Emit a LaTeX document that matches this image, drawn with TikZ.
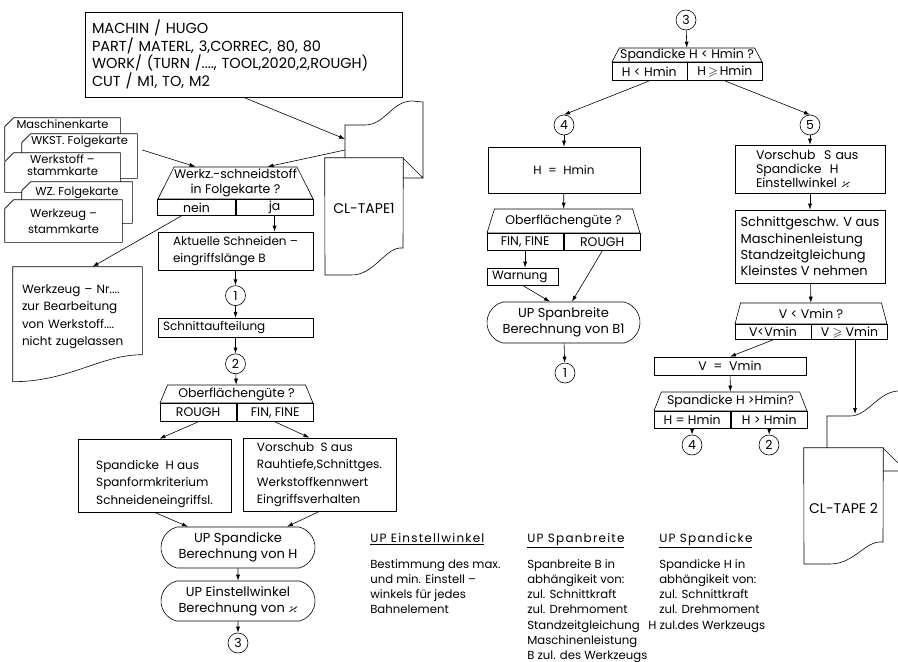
\documentclass[tikz,border=0pt]{standalone}
\usepackage{fontspec}
\setmainfont{Poppins}
\usepackage{amssymb}
\usetikzlibrary{positioning, shapes.geometric, shapes.misc, arrows.meta, calc}

\newcommand\fa{\fontsize{12}{17.5}\selectfont}
\newcommand\fb{\fontsize{14.5}{17.7}\selectfont}
\newcommand\fc{\fontsize{11.5}{12}\selectfont}
\newcommand\fd{\fontsize{12.5}{15}\selectfont}
\newcommand\fe{\fontsize{11.7}{15.2}\selectfont}
\newcommand\ft{\fontsize{13}{16}\selectfont}
% outline of a punched card, cut at the upper left corner
\newcommand\cardedge[1]{\draw (#1.south west) -- ([yshift=-9pt]#1.north west)
  -- ([xshift=9pt]#1.north west) -- (#1.north east) -- (#1.south east) -- cycle;}

\begin{document}
\begin{tikzpicture}[x=1pt, y=-1pt, line width=0.6pt,
  >={Latex[length=6pt, width=4pt]},
  box/.style={draw, align=left, inner xsep=5pt, inner ysep=2pt, font=\fa},
  ask/.style={trapezium, trapezium stretches body, draw, align=center,
              inner sep=0pt, font=\fd},
  opt/.style={draw, inner sep=0pt, anchor=north west, font=\fd},
  term/.style={rounded rectangle, rounded rectangle arc length=150, draw,
               align=center, inner sep=0pt, font=\ft},
  conn/.style={circle, draw, minimum size=20pt, inner sep=0pt, font=\fd},
  card/.style={fill=white, align=center, inner sep=2pt, font=\fc},
  doc/.style={align=left, inner sep=0pt, font=\fa},
  note/.style={align=left, inner sep=0pt, font=\fe}]
  \clip (0,0) rectangle (898,662);

  % input program and tape 1
  \node[box, minimum width=317pt, minimum height=85pt, text width=303pt,
        inner xsep=7pt, font=\fb] (prog) at (243.5,54.5)
        {MACHIN / HUGO\\PART/ MATERL, 3,CORREC, 80, 80\\
         \mbox{WORK/ (TURN /...., TOOL,2020,2,ROUGH)}\\CUT / M1, TO, M2};
  \node[doc, minimum width=78pt, minimum height=100pt, font=\fontsize{14}{16}\selectfont] (tape1) at (364,208) {CL-TAPE1};
  \draw (tape1.north west) -- (tape1.north east) -- (403,248)
        .. controls (385,246) and (375,276) .. (350,275) -- (325,275) -- cycle;
  \draw (345,158) -- (345,125) -- (365,125) .. controls (385,125) and (392,101) .. (412,101)
        -- (423,102) -- (423,178) -- (403,178) (403,158) -- (423,178);
  \coordinate (t1in) at (345,139);
  \coordinate (t1out) at (345,150);

  % card deck
  \node[card, minimum width=115pt, minimum height=42pt, text height=8pt, text depth=30pt] (c1) at (62.5,139) {Maschinenkarte};
  \cardedge{c1}
  \node[card, minimum width=115pt, minimum height=44pt, text height=8pt, text depth=32pt] (c2) at (79.5,156) {WKST. Folgekarte};
  \cardedge{c2}
  \node[card, minimum width=115pt, minimum height=39pt, text height=20pt, text depth=15pt] (c3) at (62.5,172.5) {Werkstoff –\\stammkarte};
  \cardedge{c3}
  \node[card, minimum width=110pt, minimum height=41pt, text height=11pt, text depth=26pt] (c4) at (77,202.5) {WZ. Folgekarte};
  \cardedge{c4}
  \node[card, minimum width=117pt, minimum height=42pt, font=\fontsize{11.5}{16}\selectfont] (c5) at (63.5,221) {Werkzeug –\\stammkarte};
  \cardedge{c5}

  % left column
  \node[ask, minimum width=155pt, minimum height=32pt] (q1) at (235.5,183) {Werkz.-schneidstoff\\in Folgekarte ?};
  \node[opt, minimum width=77.5pt, minimum height=16pt] (q1n) at (q1.bottom left corner) {nein};
  \node[opt, minimum width=77.5pt, minimum height=16pt] (q1j) at (q1n.north east) {ja};
  \node[doc, minimum width=129pt, minimum height=99pt, text width=111pt] (warn) at (77.5,316.5)
        {Werkzeug – Nr....\\zur Bearbeitung\\von Werkstoff....\\nicht zugelassen};
  \draw (warn.north west) -- (warn.north east) -- ($(warn.north east)+(0,88)$)
        .. controls +(-42,0) and +(57,0) .. ($(warn.north west)+(0,115)$) -- cycle;
  \node[box, minimum width=155pt, minimum height=38pt] (akt) at (235.5,251) {Aktuelle Schneiden –\\eingriffslänge B};
  \node[conn, below=15pt of akt] (n1) {1};
  \node[box, minimum width=155pt, minimum height=19pt, text width=145pt, below=12pt of n1] (cut) {Schnittaufteilung};
  \node[conn, below=16pt of cut] (n2) {2};
  \node[ask, minimum width=153pt, minimum height=18pt] (q2) at (236.5,394) {Oberflächengüte ?};
  \node[opt, minimum width=76.5pt, minimum height=18pt] (q2r) at (q2.bottom left corner) {ROUGH};
  \node[opt, minimum width=76.5pt, minimum height=18pt] (q2f) at (q2r.north east) {FIN, FINE};
  \node[box, minimum width=153pt, minimum height=73pt, text height=61pt] (hc) at (154.5,475.5)
        {Spandicke\ \ H aus\\Spanformkriterium\\Schneideneingriffsl.};
  \node[box, minimum width=153pt, minimum height=73pt] (vs) at (319.5,474.5)
        {Vorschub\ \ S aus\\Rauhtiefe,Schnittges.\\Werkstoffkennwert\\Eingriffsverhalten};
  \node[term, minimum width=154pt, minimum height=41pt] (sp) at (238,547.5) {UP Spandicke\\Berechnung von H};
  \node[term, minimum width=154pt, minimum height=40pt] (ew) at (238,601) {UP Einstellwinkel\\Berechnung von $\varkappa$};
  \node[conn] (n3) at (238,643) {3};

  \draw[->] (prog.south) -- (t1in);
  \draw[->] (t1out) -- ([xshift=32pt]q1.north);
  \draw[->] ([xshift=5pt, yshift=6pt]c2.east) -- ([xshift=-40pt]q1.north);
  \draw[->] ([xshift=-15pt]q1n.south) -- ([xshift=15pt]warn.north);
  \draw[->] (q1j.south) -- (q1j.south |- akt.north);
  \draw[->] (akt) -- (n1);
  \draw[->] (n1) -- (cut);
  \draw[->] (cut) -- (n2);
  \draw[->] (n2) -- (q2);
  \draw[->] (q2r.south) -- ([xshift=5pt]hc.north);
  \draw[->] (q2f.south) -- ([xshift=-10pt]vs.north);
  \draw[->] (hc.south) -- ([xshift=-50pt]sp.north);
  \draw[->] (vs.south) -- ([xshift=49pt]sp.north);
  \draw[->] (sp) -- (ew);
  \draw[->] (ew) -- (n3);

  % right part
  \node[conn] (n3b) at (686,20) {3};
  \node[ask, minimum width=150pt, minimum height=14pt] (q3) at (687,55) {Spandicke H < Hmin ?};
  \node[opt, minimum width=75pt, minimum height=18pt] (q3l) at (q3.bottom left corner) {H < Hmin};
  \node[opt, minimum width=75pt, minimum height=18pt] (q3r) at (q3l.north east) {H$\,\geqslant\,$Hmin};
  \node[conn] (n4) at (564,125) {4};
  \node[conn] (n5) at (810,125) {5};
  \node[box, minimum width=152pt, minimum height=46pt, align=center] (hmin) at (564,170) {H\ \ =\ \ Hmin};
  \node[ask, minimum width=153pt, minimum height=24pt] (q4) at (563.5,221) {Oberflächengüte ?};
  \node[opt, minimum width=76.5pt, minimum height=17pt] (q4f) at (q4.bottom left corner) {FIN, FINE};
  \node[opt, minimum width=76.5pt, minimum height=17pt] (q4r) at (q4f.north east) {ROUGH};
  \node[box, minimum width=71pt, minimum height=17pt, text width=61pt] (warnung) at (522.5,276.5) {Warnung};
  \node[term, minimum width=153pt, minimum height=41pt] (up2) at (563.5,322.5) {UP Spanbreite\\Berechnung von B1};
  \node[conn] (n1b) at (565,373) {1};

  \node[box, minimum width=150pt, minimum height=48pt, text width=108pt, inner xsep=21pt,
        font=\fontsize{12.5}{14}\selectfont] (vs2) at (810,169)
        {Vorschub\ \ S aus\\Spandicke\ \ H\\\mbox{Einstellwinkel $\varkappa$}};
  \node[box, minimum width=150pt, minimum height=73pt, font=\fontsize{13}{16.3}\selectfont] (sg) at (810,246.5)
        {Schnittgeschw. V aus\\Maschinenleistung\\Standzeitgleichung\\Kleinstes V nehmen};
  \node[ask, minimum width=152pt, minimum height=21pt] (q5) at (811,313.5) {V < Vmin ?};
  \node[opt, minimum width=76pt, minimum height=15pt] (q5l) at (q5.bottom left corner) {V<Vmin};
  \node[opt, minimum width=76pt, minimum height=15pt] (q5r) at (q5l.north east) {V $\geqslant$ Vmin};
  \node[box, minimum width=152pt, minimum height=18pt, align=center, font=\fd] (vmin) at (730,366) {V\ \ =\ \ Vmin};
  \node[ask, minimum width=153pt, minimum height=19pt] (q6) at (730.5,401.5) {Spandicke H >Hmin?};
  \node[opt, minimum width=76.5pt, minimum height=17pt] (q6l) at (q6.bottom left corner) {H = Hmin};
  \node[opt, minimum width=76.5pt, minimum height=17pt] (q6r) at (q6l.north east) {H > Hmin};
  \node[conn] (n4b) at (692,445) {4};
  \node[conn] (n2b) at (769,445) {2};

  % tape 2
  \node[doc, minimum width=79pt, minimum height=120pt, font=\fontsize{14}{16}\selectfont] (tape2) at (843.5,508) {CL-TAPE 2};
  \draw (tape2.north west) -- (tape2.north east) -- (883,542)
        .. controls (865,540) and (855,564) .. (830,564) -- (804,564) -- cycle;
  \draw (827,448) -- (827,416) -- (850,416) .. controls (868,416) and (878,392) .. (898,391)
        -- (910,391) (883,471) -- (910,471) (883,448) -- (905,470);
  \coordinate (t2in) at (855,414);

  \draw[->] (n3b) -- (q3);
  \draw[->] (q3l.south) -- (n4.north);
  \draw[->] (q3r.south) -- (n5.north);
  \draw[->] (n4) -- (hmin);
  \draw[->] (hmin) -- (q4);
  \draw[->] (q4f.south) -- (q4f.south |- warnung.north);
  \draw[->] (warnung.south) -- ([xshift=-13.5pt]up2.north);
  \draw[->] (q4r.south) -- ([xshift=8.5pt]up2.north);
  \draw[->] (up2) -- (n1b);
  \draw[->] (n5) -- (vs2);
  \draw[->] (vs2) -- (sg);
  \draw[->] (sg) -- (q5);
  \draw[->] (q5l.south) -- (vmin.north);
  \draw[->] (vmin) -- (q6);
  \draw[->] (q6l.south) -- (n4b);
  \draw[->] (q6r.south) -- (n2b);
  \draw[->] (t2in |- q5r.south) -- (t2in);

  % notes
  \node[note, anchor=base west, font=\fontsize{12}{14}\selectfont\addfontfeature{LetterSpace=10}] (hdA) at (370,542) {\underline{UP Einstellwinkel}};
  \node[note, anchor=base west, font=\fontsize{12}{14}\selectfont\addfontfeature{LetterSpace=10}] (hdB) at (527,542) {\underline{UP Spanbreite}};
  \node[note, anchor=base west, font=\fontsize{12}{14}\selectfont\addfontfeature{LetterSpace=10}] (hdC) at (659,542) {\underline{UP Spandicke}};
  \node[note, anchor=north west] (txA) at (370,559)
        {Bestimmung des max.\\und min. Einstell –\\winkels für jedes\\Bahnelement};
  \node[note, anchor=north west] (txB) at (527,559)
        {Spanbreite B in\\abhängikeit von:\\zul. Schnittkraft\\zul. Drehmoment\\Standzeitgleichung\\Maschinenleistung\\B zul. des Werkzeugs};
  \node[note, anchor=north west] (txC) at (659,559)
        {Spandicke H in\\abhängikeit von:\\zul. Schnittkraft\\zul. Drehmoment\\\hspace*{-11pt}H zul.des Werkzeugs};
\end{tikzpicture}
\end{document}
